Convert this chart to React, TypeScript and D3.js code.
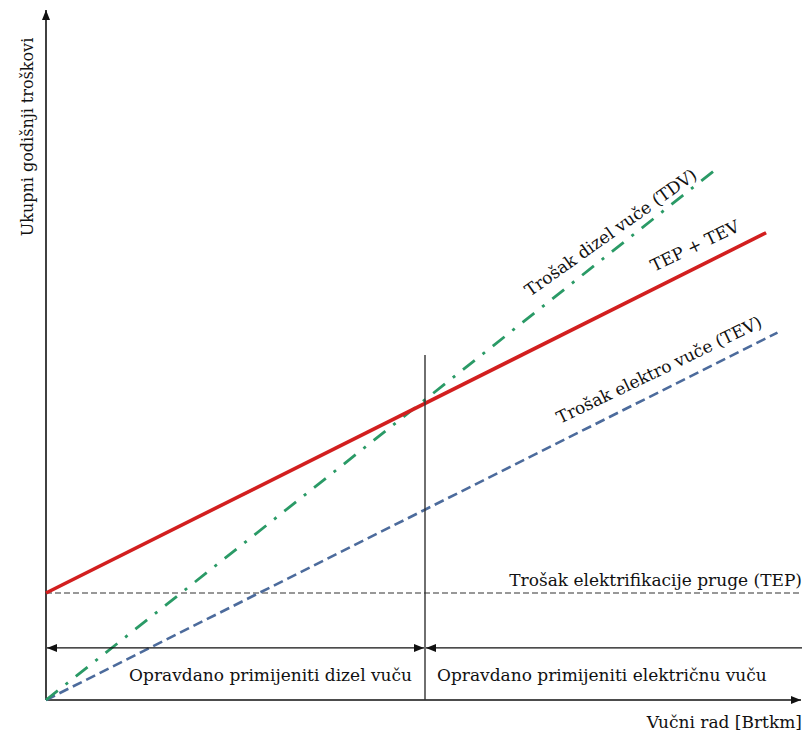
import React from 'react'
import * as d3 from 'd3'

// values (x = Brtkm, y = cost, arbitrary units)
const tepX = [0, 19.9]
const tepY = [3, 3]
const tevX = [0, 19.3]
const tevY = [0, 10.3]
const totalX = [0, 19.0]
const totalY = [3, 13.1]
const tdvX = [0, 17.7]
const tdvY = [0, 14.9]
const breakEven = 10
const breakTop = 9.67
const rangeArrowY = 1.46

const W = 805
const H = 735
const font = "'DejaVu Serif', serif"

const zip = (xs: number[], ys: number[]) => xs.map((x, i) => ({ x, y: ys[i] }))

const App: React.FC = () => {
  const x = d3.scaleLinear([0, 20], [46, 804])
  const y = d3.scaleLinear([0, 19], [700, 22.3])
  const line = d3.line<{ x: number; y: number }>().x((d) => x(d.x)).y((d) => y(d.y))

  const angle = (xs: number[], ys: number[]) =>
    (Math.atan2(y(ys[1]) - y(ys[0]), x(xs[1]) - x(xs[0])) * 180) / Math.PI

  return (
    <svg width={W} height={H} style={{ position: 'absolute', left: 0, top: 0, background: '#fff' }}>
      <defs>
        <marker id="arr" viewBox="0 0 10 10" refX="10" refY="5" markerWidth="10" markerHeight="10"
          markerUnits="userSpaceOnUse" orient="auto-start-reverse">
          <path d="M0,1 L10,5 L0,9 Z" fill="#111" />
        </marker>
      </defs>

      {/* axes */}
      <line x1={x(0)} y1={y(0)} x2={x(0)} y2={10} stroke="#111" strokeWidth={1.6} markerEnd="url(#arr)" />
      <line x1={x(0)} y1={y(0)} x2={801} y2={y(0)} stroke="#111" strokeWidth={1.6} markerEnd="url(#arr)" />

      {/* TEP */}
      <path d={line(zip(tepX, tepY)) || ''} fill="none" stroke="#333" strokeWidth={1.2} strokeDasharray="6,3" />
      {/* TEV */}
      <path d={line(zip(tevX, tevY)) || ''} fill="none" stroke="#4c6b9c" strokeWidth={2.6} strokeDasharray="10,5" />
      {/* TDV */}
      <path d={line(zip(tdvX, tdvY)) || ''} fill="none" stroke="#2a9a66" strokeWidth={2.8}
        strokeDasharray="15,10,3,10" />
      {/* TEP + TEV */}
      <path d={line(zip(totalX, totalY)) || ''} fill="none" stroke="#d21f1f" strokeWidth={3.6} />

      {/* break-even */}
      <line x1={x(breakEven)} y1={y(0)} x2={x(breakEven)} y2={y(breakTop)} stroke="#333" strokeWidth={1.4} />

      {/* range arrows */}
      <line x1={x(0) + 1} y1={y(rangeArrowY)} x2={x(breakEven) - 1} y2={y(rangeArrowY)} stroke="#111"
        strokeWidth={1.4} markerStart="url(#arr)" markerEnd="url(#arr)" />
      <line x1={x(breakEven) + 1} y1={y(rangeArrowY)} x2={802} y2={y(rangeArrowY)} stroke="#111"
        strokeWidth={1.4} markerStart="url(#arr)" />

      <g fontFamily={font} fontSize={17} fill="#111">
        <text x={412} y={681} textAnchor="end">Opravdano primijeniti dizel vuču</text>
        <text x={437} y={681}>Opravdano primijeniti električnu vuču</text>
        <text x={802} y={728} textAnchor="end">Vučni rad [Brtkm]</text>
        <text x={802} y={586} textAnchor="end">Trošak elektrifikacije pruge (TEP)</text>
        <text transform={`translate(33,137) rotate(-90)`} textAnchor="middle" fontSize={16}>Ukupni godišnji troškovi</text>
        <text transform={`translate(530,297) rotate(${angle(tdvX, tdvY) + 3})`}>Trošak dizel vuče (TDV)</text>
        <text transform={`translate(654,272) rotate(${angle(totalX, totalY) + 1})`}>TEP + TEV</text>
        <text transform={`translate(560,424) rotate(${angle(tevX, tevY) + 1})`}>Trošak elektro vuče (TEV)</text>
      </g>
    </svg>
  )
}

export default App
